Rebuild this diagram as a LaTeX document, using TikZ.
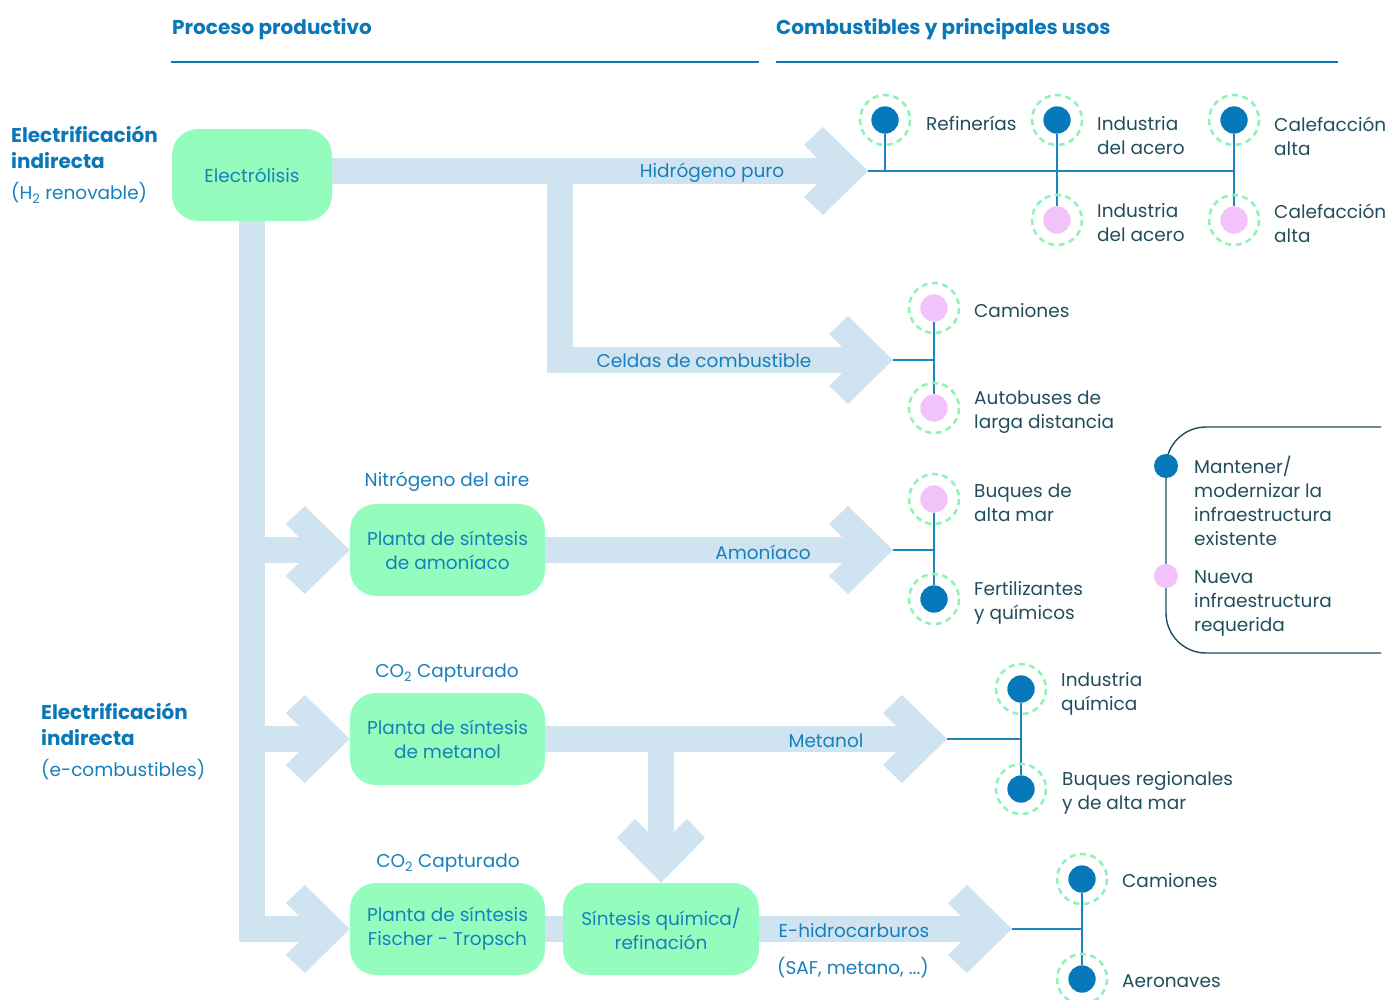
\documentclass[tikz,border=0pt]{standalone}
\usepackage{fontspec}
\setmainfont{Poppins}
\definecolor{bandc}{HTML}{CFE4F0}
\definecolor{boxg}{HTML}{94FDBE}
\definecolor{tblue}{HTML}{1780BC}
\definecolor{hblue}{HTML}{0A78B8}
\definecolor{dblue}{HTML}{0779BA}
\definecolor{pinkd}{HTML}{F2C2FA}
\definecolor{ringg}{HTML}{8DF4B4}
\definecolor{ttxt}{HTML}{214E5C}
\definecolor{tline}{HTML}{1C86C0}
\newcommand\fsz{\fontsize{18.5}{24}\selectfont}
\newcommand\fbz{\fontsize{20}{26}\selectfont\bfseries}
\newcommand{\chevron}[2]{\fill[bandc, shift={#1}, rotate=#2] (-51,-13) -- (-64,-26) -- (-45,-44) -- (0,0) -- (-45,44) -- (-64,26) -- (-51,13) -- cycle;}
\tikzset{
  procbox/.style={fill=boxg, rounded corners=26pt, minimum height=92pt, inner sep=0pt, text=tblue, align=center, font=\fsz},
  bandline/.style={draw=bandc, line width=26pt, line join=miter, line cap=butt},
  flowlabel/.style={text=tblue, font=\fsz, inner sep=0pt},
  uselabel/.style={text=ttxt, font=\fsz, align=left, anchor=west, inner sep=0pt},
  darkdot/.style={circle, fill=dblue, minimum size=27pt, inner sep=0pt},
  pinkdot/.style={circle, fill=pinkd, minimum size=27pt, inner sep=0pt},
  ringc/.style={draw=ringg, line width=2.6pt, dash pattern=on 6pt off 4.5pt},
  thin/.style={draw=tline, line width=1.4pt},
  header/.style={text=hblue, font=\fbz, anchor=west, inner sep=0pt},
  sidehead/.style={text=hblue, font=\fbz, anchor=west, inner sep=0pt, align=left},
  sidesub/.style={text=tblue, font=\fsz, anchor=west, inner sep=0pt},
  hrule/.style={draw=hblue, line width=2.4pt},
}
\begin{document}
\begin{tikzpicture}[x=1pt,y=-1pt]
\useasboundingbox (0,0) rectangle (1391,999);

% headers
\node[header] (h1) at (172,29) {Proceso productivo};
\node[header] (h2) at (776,29) {Combustibles y principales usos};
\coordinate (r1a) at (171,62); \coordinate (r1b) at (759,62);
\coordinate (r2a) at (776,62); \coordinate (r2b) at (1338,62);
\draw[hrule] (r1a) -- (r1b);
\draw[hrule] (r2a) -- (r2b);

% side headings
\node[sidehead] (s1) at (11,147) {Electrificación\\indirecta};
\node[sidesub] (s1b) at (11,193) {(H\textsubscript{2} renovable)};
\node[sidehead] (s2) at (41,724) {Electrificación\\indirecta};
\node[sidesub] (s2b) at (41,770) {(e-combustibles)};

% key coordinates
\coordinate (h2tip) at (868,171);
\coordinate (j1) at (560,171);
\coordinate (fctip) at (893,360);
\coordinate (amtip) at (893,550);
\coordinate (metip) at (947,739);
\coordinate (j2) at (661,739);
\coordinate (ehtip) at (1012,929);

% boxes (positions)
\path (252,175) node[procbox, minimum width=160pt, draw=none, fill=none] (elec) {}
      (447.5,550) node[procbox, minimum width=195pt, draw=none, fill=none] (amon) {}
      (447.5,739) node[procbox, minimum width=195pt, draw=none, fill=none] (meta) {}
      (447.5,929) node[procbox, minimum width=195pt, draw=none, fill=none] (ft) {}
      (661,929) node[procbox, minimum width=196pt, draw=none, fill=none] (sint) {};

% bands
\draw[bandline, shorten >=30pt] (elec.center |- h2tip) -- (h2tip);
\draw[bandline, shorten >=30pt] (j1) -- (j1 |- fctip) -- (fctip);
\draw[bandline, shorten >=30pt] (elec.center) -- (elec.center |- ft.west) -- (ft.west);
\draw[bandline, shorten >=30pt] (elec.center |- amon.west) -- (amon.west);
\draw[bandline, shorten >=30pt] (elec.center |- meta.west) -- (meta.west);
\draw[bandline, shorten >=30pt] (amon.center) -- (amtip);
\draw[bandline, shorten >=30pt] (meta.center) -- (metip);
\draw[bandline, shorten >=30pt] (j2) -- (sint.north);
\draw[bandline] (ft.center) -- (sint.center);
\draw[bandline, shorten >=30pt] (sint.center) -- (ehtip);
\chevron{(h2tip)}{0}
\chevron{(fctip)}{0}
\chevron{(amtip)}{0}
\chevron{(metip)}{0}
\chevron{(ehtip)}{0}
\chevron{(amon.west)}{0}
\chevron{(meta.west)}{0}
\chevron{(ft.west)}{0}
\chevron{(sint.north)}{-90}

% boxes drawn
\node[procbox, minimum width=160pt] (elecb) at (elec) {Electrólisis};
\node[procbox, minimum width=195pt] (amonb) at (amon) {Planta de síntesis\\de amoníaco};
\node[procbox, minimum width=195pt] (metab) at (meta) {Planta de síntesis\\de metanol};
\node[procbox, minimum width=195pt] (ftb) at (ft) {Planta de síntesis\\Fischer - Tropsch};
\node[procbox, minimum width=196pt] (sintb) at (sint) {Síntesis química/\\refinación};

% labels above boxes
\node[flowlabel] (lN) at (447,482) {Nitrógeno del aire};
\node[flowlabel] (lC1) at (447,673) {CO\textsubscript{2} Capturado};
\node[flowlabel] (lC2) at (448,863) {CO\textsubscript{2} Capturado};

% flow labels
\node[flowlabel] (fH) at (712,173) {Hidrógeno puro};
\node[flowlabel] (fC) at (704,361) {Celdas de combustible};
\node[flowlabel] (fA) at (763,552) {Amoníaco};
\node[flowlabel] (fM) at (826,741) {Metanol};
\node[flowlabel] (fE) at (854,931) {E-hidrocarburos};
\node[flowlabel] (fS) at (853,968) {(SAF, metano, ...)};

% ---- usage groups: dots
\node[darkdot] (g1a) at (885,120) {};
\node[darkdot] (g1b) at (1057,120) {};
\node[darkdot] (g1c) at (1234,120) {};
\node[pinkdot] (g1d) at (1057,220) {};
\node[pinkdot] (g1e) at (1234,220) {};
\node[pinkdot] (g2a) at (934,308) {};
\node[pinkdot] (g2b) at (934,408) {};
\node[pinkdot] (g3a) at (934,499) {};
\node[darkdot] (g3b) at (934,599) {};
\node[darkdot] (g4a) at (1021,689) {};
\node[darkdot] (g4b) at (1021,789) {};
\node[darkdot] (g5a) at (1082,879) {};
\node[darkdot] (g5b) at (1082,979) {};

% thin connectors
\draw[thin] (h2tip) -- (g1c |- h2tip);
\draw[thin] (g1a) -- (g1a |- h2tip);
\draw[thin] (g1b) -- (g1d);
\draw[thin] (g1c) -- (g1e);
\draw[thin] (fctip) -- (g2a |- fctip);
\draw[thin] (g2a) -- (g2b);
\draw[thin] (amtip) -- (g3a |- amtip);
\draw[thin] (g3a) -- (g3b);
\draw[thin] (metip) -- (g4a |- metip);
\draw[thin] (g4a) -- (g4b);
\draw[thin] (ehtip) -- (g5a |- ehtip);
\draw[thin] (g5a) -- (g5b);

% redraw dots on top and rings
\foreach \n in {g1a,g1b,g1c,g3b,g4a,g4b,g5a,g5b}{\fill[dblue] (\n) circle[radius=13.5];}
\foreach \n in {g1d,g1e,g2a,g2b,g3a}{\fill[pinkd] (\n) circle[radius=13.5];}
\foreach \n in {g1a,g1b,g1c,g1d,g1e,g2a,g2b,g3a,g3b,g4a,g4b,g5a,g5b}{\draw[ringc] (\n) circle[radius=25];}

% usage labels
\node[uselabel] (u1) at (926,123) {Refinerías};
\node[uselabel] (u2) at (1097,136) {Industria\\del acero};
\node[uselabel] (u3) at (1274,136) {Calefacción\\alta};
\node[uselabel] (u4) at (1097,223) {Industria\\del acero};
\node[uselabel] (u5) at (1274,223) {Calefacción\\alta};
\node[uselabel] (u6) at (974,311) {Camiones};
\node[uselabel] (u7) at (974,412) {Autobuses de\\larga distancia};
\node[uselabel] (u8) at (974,503) {Buques de\\alta mar};
\node[uselabel] (u9) at (974,603) {Fertilizantes\\y químicos};
\node[uselabel] (u10) at (1061,694) {Industria\\química};
\node[uselabel] (u11) at (1062,793) {Buques regionales\\y de alta mar};
\node[uselabel] (u12) at (1122,881) {Camiones};
\node[uselabel] (u13) at (1122,981) {Aeronaves};

% legend
\coordinate (lg1) at (1381,427);
\coordinate (lg2) at (1166,427);
\coordinate (lg3) at (1166,653);
\coordinate (lg4) at (1381,653);
\draw[draw=ttxt, line width=1.4pt, rounded corners=40pt] (lg1) -- (lg2) -- (lg3) -- (lg4);
\node[circle, fill=dblue, minimum size=24pt, inner sep=0pt] (k1) at (1166,466) {};
\node[circle, fill=pinkd, minimum size=24pt, inner sep=0pt] (k2) at (1166,576) {};
\node[uselabel] (k1t) at (1194,501) {Mantener/\\modernizar la\\infraestructura\\existente};
\node[uselabel] (k2t) at (1194,603) {Nueva\\infraestructura\\requerida};
\end{tikzpicture}
\end{document}
